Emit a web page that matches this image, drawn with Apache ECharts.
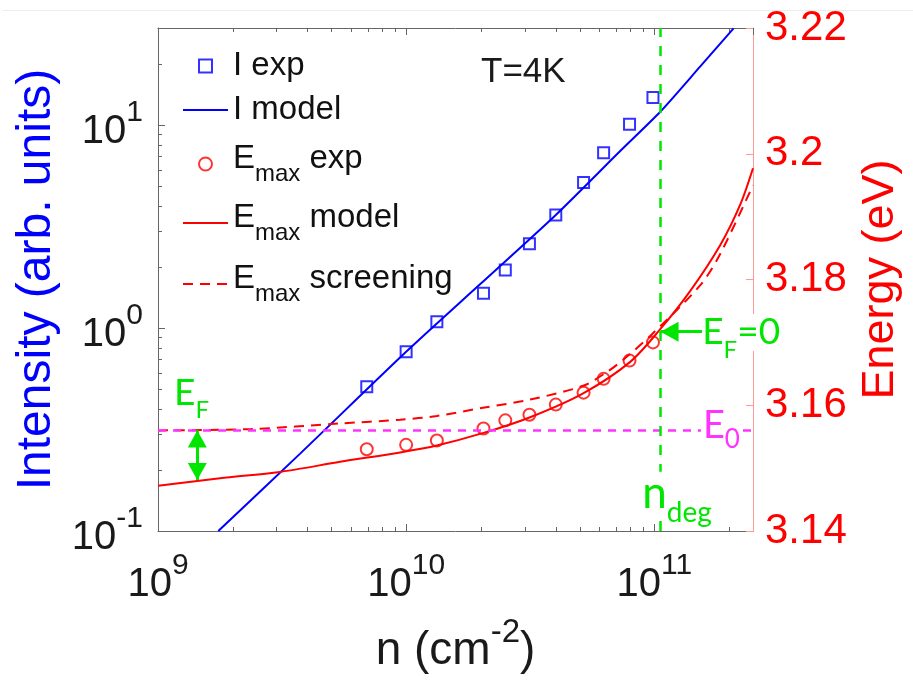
<!DOCTYPE html>
<html><head><meta charset="utf-8">
<script src="https://cdn.jsdelivr.net/npm/echarts@6/dist/echarts.min.js"></script>
<style>html,body{margin:0;padding:0;background:#fff}#c{width:913px;height:680px}</style>
</head><body><div id="c"></div>
<script>
// ---------------- data ----------------
const nExp = [6.94e9, 1.0e10, 1.33e10, 2.05e10, 2.51e10, 3.14e10, 4.01e10, 5.19e10, 6.25e10, 7.95e10, 9.88e10];
const intensityExp = [0.513, 0.764, 1.073, 1.48, 1.93, 2.60, 3.60, 5.21, 7.29, 10.06, 13.66];
const energyExp = [3.1530, 3.1537, 3.1544, 3.1563, 3.1576, 3.1585, 3.1601, 3.1620, 3.1642, 3.1671, 3.1700];

const nIModel = [1.75e9, 3.74e9, 1.0e10, 1.99e10, 4.01e10, 7.29e10, 1.057e11, 1.533e11, 2.088e11];
const intensityModel = [0.1, 0.2405, 0.763, 1.645, 3.60, 7.43, 11.6, 19.4, 29.87];

const nEModel = [1.0e9, 1.778e9, 3.10e9, 5.42e9, 9.46e9, 1.33e10, 2.05e10, 3.16e10, 5.17e10, 8.0e10, 1.057e11, 1.397e11, 1.846e11, 2.22e11, 2.5e11];
const energyModel = [3.1472, 3.1484, 3.1494, 3.1510, 3.1525, 3.1536, 3.1556, 3.1581, 3.1619, 3.1669, 3.1721, 3.1782, 3.1855, 3.1919, 3.1977];

const nEScreen = [1.0e9, 2.35e9, 5.42e9, 9.46e9, 1.33e10, 2.04e10, 3.16e10, 5.17e10, 6.45e10, 7.64e10, 9.79e10, 1.533e11, 1.846e11, 2.5e11];
const energyScreen = [3.1560, 3.1562, 3.1571, 3.1577, 3.1583, 3.1596, 3.1609, 3.1631, 3.1653, 3.1675, 3.1713, 3.1791, 3.1841, 3.1950];

const E0 = 3.156;          // E_0 level
const nDeg = 1.06e11;      // n_deg
const nEFArrow = 1.44e9;   // position of E_F double arrow
const EFArrowBottom = 3.1481;
const EF0 = 3.1717;        // E_F = 0 point energy
const nEF0ArrowStart = 1.56e11;

const xMinorTicks = [2e9,3e9,4e9,5e9,6e9,7e9,8e9,9e9,2e10,3e10,4e10,5e10,6e10,7e10,8e10,9e10,2e11];
const yMinorTicks = [0.2,0.3,0.4,0.5,0.6,0.7,0.8,0.9,2,3,4,5,6,7,8,9,20];

// ---------------- styles ----------------
const FONT = '"Liberation Sans", Arial, Helvetica, sans-serif';
const AFONT = 'Lato, "Open Sans", sans-serif';
const AX = '#666666';
const GREEN = '#00e600';
const MAG = '#ff33ff';
const TXT = '#1a1a1a';

function powLabel(v) {
  const e = Math.round(Math.log10(v));
  if (Math.abs(v / Math.pow(10, e) - 1) > 1e-6) return '';
  return '{h| }{b|10}{s|' + e + '}';
}
const powRich = {
  h: {fontSize: 1, lineHeight: 54, width: 0},
  b: {fontSize: 40, lineHeight: 40, verticalAlign: 'bottom', fontFamily: FONT, color: TXT},
  s: {fontSize: 30, lineHeight: 30, verticalAlign: 'top', fontFamily: FONT, color: TXT}
};

const legendText = {
  'I exp': '{t|I exp}',
  'I model': '{t|I model}',
  'Emax exp': '{h| }{u|E}{s|max}{u| exp}',
  'Emax model': '{h| }{u|E}{s|max}{u| model}',
  'Emax screening': '{h| }{u|E}{s|max}{u| screening}'
};
const legendRich = {
  h: {fontSize: 1, lineHeight: 44, width: 0},
  t: {fontSize: 33, lineHeight: 33, verticalAlign: 'top', fontFamily: FONT, color: '#111'},
  u: {fontSize: 33, lineHeight: 34, verticalAlign: 'top', fontFamily: FONT, color: '#111'},
  s: {fontSize: 24, lineHeight: 12, verticalAlign: 'bottom', fontFamily: FONT, color: '#111'}
};
function mkLegend(item, left, top) {
  return {
    data: [item], left: left, top: top, orient: 'vertical', padding: 0, itemGap: 0,
    itemWidth: 45, itemHeight: 13, selectedMode: false,
    formatter: n => legendText[n],
    textStyle: {rich: legendRich, fontFamily: FONT}
  };
}

function annRich(color, base, sub, subPad) {
  return {
    e: {fontSize: base, lineHeight: base, verticalAlign: 'top', fontFamily: AFONT, color: color},
    f: {fontSize: sub, lineHeight: sub, padding: [subPad, 0, 0, 0], verticalAlign: 'top', fontFamily: AFONT, color: color}
  };
}

const chart = echarts.init(document.getElementById('c'), null, {renderer: 'canvas'});

const option = {
  animation: false,
  backgroundColor: '#fff',
  graphic: [{type: 'line', shape: {x1: 3, y1: 10.5, x2: 913, y2: 10.5}, style: {stroke: '#ececec', lineWidth: 1}, silent: true}],
  title: {text: 'T=4K', left: 481, top: 55, padding: 0,
    textStyle: {fontSize: 35, fontWeight: 'normal', color: TXT, fontFamily: FONT}},
  legend: [
    mkLegend({name: 'I exp', icon: 'path://M0,0L10,0L10,10L0,10Z'}, 198, 49.5),
    mkLegend('I model', 182, 93.5),
    mkLegend('Emax exp', 198, 142),
    mkLegend('Emax model', 182, 201),
    mkLegend('Emax screening', 182, 262)
  ],
  grid: {left: 158, right: 160, top: 28, bottom: 149, containLabel: false, outerBoundsMode: 'none'},
  xAxis: [{
    type: 'log', logBase: 10, min: 1e9, max: 2.5e11, position: 'bottom',
    axisLine: {show: true, lineStyle: {color: AX, width: 1}},
    axisTick: {show: true, inside: true, length: 7, lineStyle: {color: AX}},
    axisLabel: {formatter: powLabel, rich: powRich, margin: 20, showMaxLabel: false},
    splitLine: {show: false},
    name: '{h| }{b|n (cm}{s|-2}{b|)}', nameLocation: 'middle', nameGap: 85,
    nameTextStyle: {rich: {
      h: {fontSize: 1, lineHeight: 58, width: 0},
      b: {fontSize: 46, lineHeight: 46, verticalAlign: 'bottom', fontFamily: FONT, color: TXT},
      s: {fontSize: 33, lineHeight: 33, verticalAlign: 'top', fontFamily: FONT, color: TXT}
    }}
  }, {
    type: 'log', logBase: 10, min: 1e9, max: 2.5e11, position: 'top',
    axisLine: {show: true, lineStyle: {color: AX, width: 1}},
    axisTick: {show: true, inside: true, length: 7, lineStyle: {color: AX}},
    axisLabel: {show: false}, splitLine: {show: false}
  }],
  yAxis: [{
    type: 'log', logBase: 10, min: 0.1, max: 30, position: 'left',
    axisLine: {show: true, lineStyle: {color: AX, width: 1}},
    axisTick: {show: true, inside: true, length: 7, lineStyle: {color: AX}},
    axisLabel: {formatter: powLabel, rich: powRich, margin: 15, showMaxLabel: false},
    splitLine: {show: false},
    name: 'Intensity (arb. units)', nameLocation: 'middle', nameGap: 97, nameRotate: 90,
    nameTextStyle: {color: '#0000ff', fontSize: 48, fontFamily: FONT}
  }, {
    type: 'value', min: 3.14, max: 3.22, interval: 0.02, position: 'right',
    axisLine: {show: true, lineStyle: {color: '#ff9a9a', width: 1}},
    axisTick: {show: true, inside: true, length: 7, lineStyle: {color: '#ff9a9a'}},
    axisLabel: {color: '#ff0000', fontSize: 42, margin: 12, fontFamily: FONT},
    splitLine: {show: false},
    name: 'Energy (eV)', nameLocation: 'middle', nameGap: 104, nameRotate: 90,
    nameTextStyle: {color: '#ff0000', fontSize: 45, fontFamily: FONT}
  }],
  series: [
    {
      name: 'xminor', type: 'custom', xAxisIndex: 0, yAxisIndex: 0, silent: true, z: 1,
      data: xMinorTicks.map(v => [v, 1]),
      renderItem: (params, api) => {
        const cs = params.coordSys;
        const x = Math.round(api.coord([api.value(0), 1])[0]) + 0.5;
        const st = {stroke: AX, lineWidth: 1};
        return {type: 'group', children: [
          {type: 'line', shape: {x1: x, y1: cs.y + cs.height, x2: x, y2: cs.y + cs.height - 4}, style: st},
          {type: 'line', shape: {x1: x, y1: cs.y, x2: x, y2: cs.y + 4}, style: st}
        ]};
      }
    },
    {
      name: 'yminor', type: 'custom', xAxisIndex: 0, yAxisIndex: 0, silent: true, z: 1,
      data: yMinorTicks.map(v => [1e10, v]),
      renderItem: (params, api) => {
        const cs = params.coordSys;
        const y = Math.round(api.coord([1e10, api.value(1)])[1]) + 0.5;
        return {type: 'line', shape: {x1: cs.x, y1: y, x2: cs.x + 4, y2: y}, style: {stroke: AX, lineWidth: 1}};
      }
    },
    {
      name: 'I model', type: 'line', xAxisIndex: 0, yAxisIndex: 0, smooth: 0.25, symbol: 'none',
      lineStyle: {color: '#0000ff', width: 2}, itemStyle: {color: 'rgba(0,0,0,0)', borderWidth: 0},
      data: nIModel.map((n, i) => [n, intensityModel[i]]), z: 3
    },
    {
      name: 'I exp', type: 'scatter', xAxisIndex: 0, yAxisIndex: 0, symbol: 'rect', symbolSize: 11,
      itemStyle: {color: 'rgba(0,0,0,0)', borderColor: '#0000ff', borderWidth: 2},
      data: nExp.map((n, i) => [n, intensityExp[i]]), z: 4
    },
    {
      name: 'Emax screening', type: 'line', xAxisIndex: 0, yAxisIndex: 1, smooth: 0.3, symbol: 'none',
      lineStyle: {color: '#ff0000', width: 2, type: [10, 7]}, itemStyle: {color: 'rgba(0,0,0,0)', borderWidth: 0},
      data: nEScreen.map((n, i) => [n, energyScreen[i]]), z: 3,
      markLine: {
        silent: true, symbol: ['none', 'none'], label: {show: false}, animation: false, precision: 6,
        data: [
          {yAxis: E0, lineStyle: {color: MAG, type: [8, 7], width: 2.5}},
          {xAxis: nDeg, lineStyle: {color: GREEN, type: [10, 9], width: 2.5}}
        ]
      }
    },
    {
      name: 'Emax model', type: 'line', xAxisIndex: 0, yAxisIndex: 1, smooth: 0.3, symbol: 'none',
      lineStyle: {color: '#ff0000', width: 2}, itemStyle: {color: 'rgba(0,0,0,0)', borderWidth: 0},
      data: nEModel.map((n, i) => [n, energyModel[i]]), z: 3,
      markLine: {
        silent: true, label: {show: false}, animation: false, precision: 6,
        lineStyle: {color: GREEN, type: 'solid', width: 3},
        data: [
          [{coord: [nEFArrow, E0], symbol: 'triangle', symbolSize: [19, 17], symbolOffset: [0, 8.5]},
           {coord: [nEFArrow, EFArrowBottom], symbol: 'triangle', symbolSize: [19, 17], symbolOffset: [0, 8.5]}],
          [{coord: [nEF0ArrowStart, EF0], symbol: 'none'},
           {coord: [nDeg, EF0], symbol: 'triangle', symbolSize: [20, 18], symbolOffset: [0, 9]}]
        ]
      },
      markPoint: {
        silent: true, symbol: 'circle', symbolSize: 0, itemStyle: {color: 'rgba(0,0,0,0)'},
        label: {show: true, position: 'right', distance: 0},
        data: [
          {coord: [1.193e9, 3.1611], label: {formatter: '{e|E}{f|F}', rich: annRich(GREEN, 37, 24, 23), offset: [-3, -5]}},
          {coord: [1.62e11, 3.1711], label: {formatter: '{e|E}{f|F}{e|=0}', rich: annRich(GREEN, 37, 24, 24), backgroundColor: '#fff', padding: [0, 2, 0, 0], offset: [-4, -3]}},
          {coord: [1.60e11, E0], label: {formatter: '{e|E}{f|0}', rich: annRich(MAG, 38, 26, 20), backgroundColor: '#fff', padding: [0, 2, 0, 2], offset: [-4, -5]}},
          {coord: [9.2e10, 3.1456], label: {formatter: '{e|n}{f|deg}', rich: annRich(GREEN, 44, 28, 27), backgroundColor: '#fff', padding: [0, 0, 0, 0], offset: [-3, -2]}}
        ]
      }
    },
    {
      name: 'Emax exp', type: 'scatter', xAxisIndex: 0, yAxisIndex: 1, symbol: 'circle', symbolSize: 12,
      itemStyle: {color: 'rgba(0,0,0,0)', borderColor: '#ff0000', borderWidth: 2},
      data: nExp.map((n, i) => [n, energyExp[i]]), z: 4
    }
  ]
};
chart.setOption(option);
</script></body></html>
